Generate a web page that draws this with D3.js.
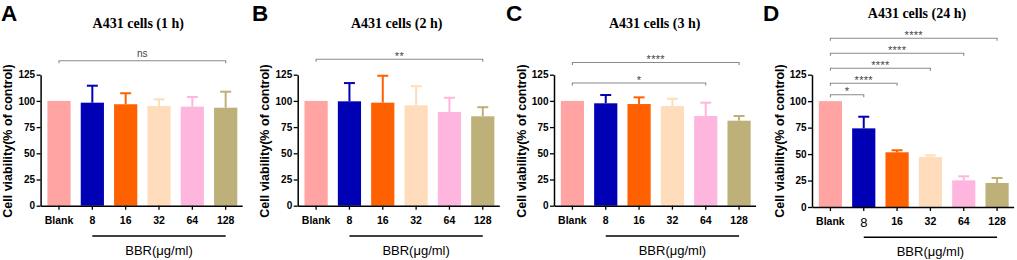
<!DOCTYPE html>
<html>
<head>
<meta charset="utf-8">
<script src="https://cdn.jsdelivr.net/npm/d3@7"></script>
<style>
  html, body { margin: 0; padding: 0; background: #fff; }
  svg { display: block; }
</style>
</head>
<body>
<svg id="chart" width="1017" height="260"></svg>
<script>
// ---------- data ----------
const categories = ["Blank", "8", "16", "32", "64", "128"];
const barColors = ["#FFA3A3", "#0000B4", "#FF6000", "#FFDDBC", "#FFB6DE", "#BDB078"];
const yTicks = [0, 25, 50, 75, 100, 125];

const panelLetters = ["A", "B", "C", "D"];
const panelTitles = ["A431 cells (1 h)", "A431 cells (2 h)", "A431 cells (3 h)", "A431 cells (24 h)"];

const means1h = [100, 98.3, 96.8, 95.1, 94.5, 93.5];
const errs1h  = [0, 16.2, 10.5, 6.4, 9.2, 15.3];
const means2h = [100, 99.6, 98.3, 95.8, 89.4, 85.3];
const errs2h  = [0, 17.4, 25.7, 18.2, 13.6, 8.7];
const means3h = [100, 97.7, 97.0, 95.1, 85.6, 81.1];
const errs3h  = [0, 7.9, 6.4, 6.9, 12.7, 4.5];
const means24h = [100, 74.3, 51.7, 47.2, 25.2, 22.7];
const errs24h  = [0, 11.0, 1.9, 1.6, 3.8, 4.7];

// significance comparisons: [from, to, label]
const sig1h = [["Blank", "128", "ns"]];
const sig2h = [["Blank", "128", "**"]];
const sig3h = [["Blank", "128", "****"], ["Blank", "64", "*"]];
const sig24h = [["Blank", "128", "****"], ["Blank", "64", "****"], ["Blank", "32", "****"], ["Blank", "16", "****"], ["Blank", "8", "*"]];

const xGroupLabel = "BBR(μg/ml)";
const yLabel = "Cell viability(% of control)";

// ---------- layout ----------
const layouts = [
  { x0: 40.6,  yBottom: 205.7, titleX: 138.3, titleY: 27.5, letterX: 1,   sigY: [60.7] },
  { x0: 297.7, yBottom: 205.7, titleX: 396.7, titleY: 27.5, letterX: 252, sigY: [59.3] },
  { x0: 554,   yBottom: 205.7, titleX: 654.7, titleY: 27.5, letterX: 506, sigY: [62.5, 83] },
  { x0: 812,   yBottom: 207,   titleX: 917,   titleY: 17.5, letterX: 763, sigY: [38.3, 53.3, 68.3, 83.3, 94.8] }
];
const yTop = 74.7;
const axisW = 201.6;

const panels = [
  { means: means1h, errs: errs1h, sig: sig1h },
  { means: means2h, errs: errs2h, sig: sig2h },
  { means: means3h, errs: errs3h, sig: sig3h },
  { means: means24h, errs: errs24h, sig: sig24h }
];

const svg = d3.select("#chart");
const sansBold = "Arial, 'Liberation Sans', Helvetica, sans-serif";

panels.forEach((p, i) => {
  const L = layouts[i];
  const g = svg.append("g");

  const x = d3.scaleBand()
    .domain(categories)
    .range([L.x0, L.x0 + axisW])
    .paddingInner(0.304)
    .paddingOuter(0.176)
    .align(0.58);
  const y = d3.scaleLinear().domain([0, 125]).range([L.yBottom, yTop]);

  // panel letter
  g.append("text")
    .attr("x", L.letterX).attr("y", 20.5)
    .attr("font-family", sansBold).attr("font-weight", "bold").attr("font-size", 22.5)
    .attr("fill", "#000")
    .text(panelLetters[i]);

  // title
  g.append("text")
    .attr("x", L.titleX).attr("y", L.titleY)
    .attr("text-anchor", "middle")
    .attr("font-family", "'Liberation Serif', 'Times New Roman', serif")
    .attr("font-weight", "bold").attr("font-size", 14)
    .text(panelTitles[i]);

  // bars
  g.selectAll("rect.bar").data(p.means).enter().append("rect")
    .attr("class", "bar")
    .attr("x", (d, j) => x(categories[j]))
    .attr("width", x.bandwidth())
    .attr("y", d => y(d))
    .attr("height", d => y(0) - y(d))
    .attr("fill", (d, j) => barColors[j]);

  // error bars (upper only)
  const capW = 11;
  p.means.forEach((m, j) => {
    const e = p.errs[j];
    if (!e) return;
    const cx = x(categories[j]) + x.bandwidth() / 2;
    g.append("line")
      .attr("x1", cx).attr("x2", cx)
      .attr("y1", y(m)).attr("y2", y(m + e))
      .attr("stroke", barColors[j]).attr("stroke-width", 2);
    g.append("line")
      .attr("x1", cx - capW / 2).attr("x2", cx + capW / 2)
      .attr("y1", y(m + e)).attr("y2", y(m + e))
      .attr("stroke", barColors[j]).attr("stroke-width", 2);
  });

  // y axis
  const yAxis = d3.axisLeft(y).tickValues(yTicks).tickSize(4).tickPadding(1.5).tickSizeOuter(0);
  const ya = g.append("g").attr("transform", `translate(${L.x0},0)`).call(yAxis);
  ya.select(".domain").attr("stroke", "#000").attr("stroke-width", 1.5);
  ya.selectAll(".tick line").attr("stroke", "#000").attr("stroke-width", 1.3);
  ya.selectAll(".tick text")
    .attr("font-family", sansBold).attr("font-weight", "bold").attr("font-size", 10)
    .attr("fill", "#000");

  // x axis
  const xAxis = d3.axisBottom(x).tickSize(4).tickPadding(5).tickSizeOuter(0);
  const xa = g.append("g").attr("transform", `translate(0,${L.yBottom})`).call(xAxis);
  xa.select(".domain").attr("stroke", "#000").attr("stroke-width", 1.5);
  xa.selectAll(".tick line").attr("stroke", "#000").attr("stroke-width", 1.3);
  xa.selectAll(".tick text")
    .attr("font-family", sansBold).attr("font-weight", "bold").attr("font-size", 10.5)
    .attr("fill", "#000")
    .attr("dy", null).attr("y", 18);
  if (i === 3) {
    xa.selectAll(".tick text").filter(d => d === "8")
      .attr("font-size", 13).attr("font-weight", "normal").attr("y", 19.5);
  }

  // y label
  g.append("text")
    .attr("transform", `translate(${L.x0 - 28.5},141) rotate(-90)`)
    .attr("text-anchor", "middle")
    .attr("font-family", sansBold).attr("font-weight", "bold").attr("font-size", 12.5)
    .text(yLabel);

  // treatment bracket
  const bx1 = x("8") + x.bandwidth() / 2;
  const bx2 = x("128") + x.bandwidth() / 2;
  const by = L.yBottom + 30.2;
  g.append("line")
    .attr("x1", bx1).attr("x2", bx2).attr("y1", by).attr("y2", by)
    .attr("stroke", "#000").attr("stroke-width", 1.5);
  g.append("text")
    .attr("x", (bx1 + bx2) / 2).attr("y", L.yBottom + 49)
    .attr("text-anchor", "middle")
    .attr("font-family", sansBold).attr("font-size", 13)
    .text(xGroupLabel);

  // significance brackets
  p.sig.forEach((s, k) => {
    const sy = L.sigY[k];
    const sx1 = x(s[0]) + x.bandwidth() / 2;
    const sx2 = x(s[1]) + x.bandwidth() / 2;
    g.append("path")
      .attr("d", `M${sx1},${sy + 2.5}V${sy}H${sx2}V${sy + 2.5}`)
      .attr("fill", "none").attr("stroke", "#8a8a8a").attr("stroke-width", 1.1);
    const isNs = s[2] === "ns";
    g.append("text")
      .attr("x", (sx1 + sx2) / 2).attr("y", isNs ? sy - 4 : sy + 0.5)
      .attr("text-anchor", "middle")
      .attr("font-family", sansBold)
      .attr("font-size", isNs ? 10 : 11)
      .attr("letter-spacing", isNs ? 0 : 0.3)
      .attr("fill", "#444")
      .text(s[2]);
  });
});
</script>
</body>
</html>
